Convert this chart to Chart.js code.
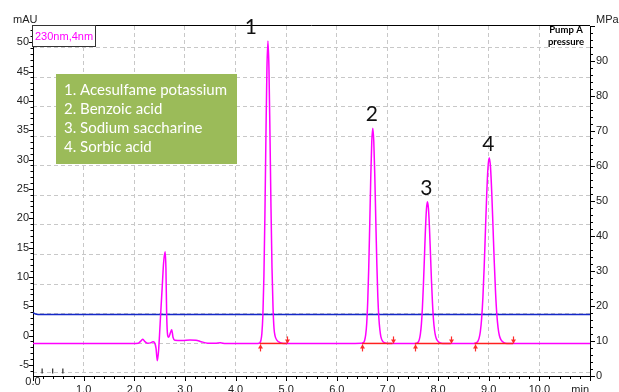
<!DOCTYPE html>
<html>
<head>
<meta charset="utf-8">
<script src="https://cdn.jsdelivr.net/npm/chart.js@4.4.0/dist/chart.umd.min.js"></script>
<style>
  html, body { margin: 0; padding: 0; background: #fff; }
  canvas { display: block; }
</style>
</head>
<body>
<canvas id="chartCanvas" width="619" height="392"></canvas>
<script>
// detector trace (230nm)
const traceTimes = [
  0.00, 0.50, 1.00, 1.50, 1.95, 2.08, 2.13, 2.17, 2.21, 2.26, 2.32, 2.37,
  2.40, 2.43, 2.455, 2.48, 2.50, 2.52, 2.55, 2.58, 2.61, 2.625, 2.64, 2.66,
  2.68, 2.715, 2.74, 2.765, 2.80, 2.95, 3.10, 3.22, 3.32, 3.45, 3.60, 3.70,
  3.80, 4.20,
  4.44, 4.48, 4.50, 4.52, 4.54, 4.56, 4.58, 4.60, 4.62, 4.64, 4.66, 4.68,
  4.70, 4.72, 4.74, 4.76, 4.78, 4.82, 4.88, 4.95,
  5.20, 5.80, 6.20,
  6.49, 6.53, 6.55, 6.57, 6.59, 6.61, 6.63, 6.65, 6.67, 6.69, 6.71, 6.73,
  6.75, 6.77, 6.79, 6.81, 6.83, 6.85, 6.87, 6.90, 6.95, 7.01,
  7.30,
  7.56, 7.59, 7.61, 7.63, 7.65, 7.67, 7.69, 7.71, 7.73, 7.75, 7.77, 7.79,
  7.81, 7.83, 7.85, 7.87, 7.89, 7.91, 7.93, 7.95, 7.98, 8.03, 8.09,
  8.40,
  8.70, 8.73, 8.76, 8.785, 8.81, 8.835, 8.86, 8.885, 8.91, 8.935, 8.96, 8.985,
  9.01, 9.035, 9.06, 9.085, 9.11, 9.135, 9.16, 9.185, 9.21, 9.24, 9.29, 9.36,
  9.80, 10.40, 11.00
];
const traceSignal = [
  -1.35, -1.36, -1.37, -1.36, -1.35, -1.30, -0.95, -0.65, -1.05, -1.30, -1.25, -1.05,
  -1.20, -2.20, -4.30, -2.60, 0.30, 3.50, 8.00, 12.50, 14.30, 11.50, 3.50, 0.00,
  -0.30, 0.50, 1.00, -0.30, -0.80, -0.85, -0.75, -0.80, -1.05, -1.30, -1.32, -1.25,
  -1.35, -1.36,
  -1.35, -1.23, -0.85, 0.35, 3.50, 10.00, 20.60, 33.90, 45.50, 50.20, 45.50, 34.20,
  21.80, 11.50, 4.80, 1.20, -0.06, -0.83, -1.20, -1.35,
  -1.36, -1.35, -1.36,
  -1.33, -1.20, -0.80, 0.10, 2.00, 5.70, 11.40, 18.90, 26.80, 33.00, 35.35, 33.10,
  27.20, 19.60, 12.30, 6.60, 3.00, 1.00, -0.20, -0.90, -1.25, -1.35,
  -1.36,
  -1.35, -1.25, -1.08, -0.66, 0.24, 1.90, 4.70, 8.60, 13.30, 18.00, 21.50, 22.80,
  21.60, 18.30, 13.80, 9.20, 5.40, 2.60, 0.90, -0.10, -0.80, -1.20, -1.35,
  -1.35,
  -1.35, -1.32, -1.23, -1.00, -0.45, 0.70, 2.90, 6.50, 11.65, 17.85, 24.00, 28.60,
  30.30, 28.70, 24.30, 18.40, 12.40, 7.30, 3.60, 1.30, 0.00, -0.70, -1.15, -1.35,
  -1.36, -1.35, -1.37
];

// pump A pressure (MPa)
const pressureTimes = [0.00, 0.05, 0.10, 11.00];
const pressureValues = [18.1, 17.7, 17.55, 17.6];

// peaks
const peakNames = ['1', '2', '3', '4'];
const peakTimes = [4.64, 6.71, 7.79, 9.01];
const peakHeights = [50.2, 35.35, 22.8, 30.3];
const peakStarts = [4.48, 6.50, 7.54, 8.72];
const peakEnds = [5.01, 7.10, 8.25, 9.48];
const baselineLevel = -1.35;

const eventTimes = [0.18, 0.39, 0.59];
const eventLevel = -6.05;

const compoundNames = [
  '1. Acesulfame potassium',
  '2. Benzoic acid',
  '3. Sodium saccharine',
  '4. Sorbic acid'
];

const xTickValues = [1, 2, 3, 4, 5, 6, 7, 8, 9, 10];
const leftTickValues = [-5, 0, 5, 10, 15, 20, 25, 30, 35, 40, 45, 50];
const rightTickValues = [0, 10, 20, 30, 40, 50, 60, 70, 80, 90, 100];
const gridSteps = [0, 1, 2, 3, 4, 5, 6, 7, 8, 9, 10, 11];

const sansFont = "'Liberation Sans', Arial, sans-serif";
const labelFont = "Lato, 'Open Sans', sans-serif";

const overlayPlugin = {
  id: 'overlay',
  afterDraw(chart) {
    const { ctx, chartArea: a, scales } = chart;
    const sx = scales.x, sy = scales.y, sr = scales.y1;
    ctx.save();

    // frame top
    ctx.strokeStyle = '#000';
    ctx.lineWidth = 1;
    ctx.beginPath();
    ctx.moveTo(a.left, Math.round(a.top) - 0.5);
    ctx.lineTo(a.right, Math.round(a.top) - 0.5);
    ctx.stroke();

    // tick marks
    ctx.beginPath();
    for (let i = 0; i <= 55; i++) {
      const px = Math.round(sx.getPixelForValue(i / 5)) + 0.5;
      const len = i % 5 === 0 ? 5 : 3;
      ctx.moveTo(px, a.bottom);
      ctx.lineTo(px, a.bottom + len);
    }
    for (let v = -6; v <= 52; v++) {
      const py = Math.round(sy.getPixelForValue(v)) + 0.5;
      const len = v % 5 === 0 ? 4 : 2.5;
      ctx.moveTo(a.left - len, py);
      ctx.lineTo(a.left, py);
    }
    for (let v = 0; v <= 100; v += 2) {
      const py = Math.round(sr.getPixelForValue(v)) + 0.5;
      const len = v % 10 === 0 ? 5 : 3;
      ctx.moveTo(a.right, py);
      ctx.lineTo(a.right + len, py);
    }
    ctx.stroke();

    // axis texts
    ctx.fillStyle = '#222';
    ctx.font = '11px ' + sansFont;
    ctx.textBaseline = 'alphabetic';
    ctx.textAlign = 'left';
    ctx.fillText('mAU', 13, 23);
    ctx.fillText('MPa', 596, 23);
    ctx.textBaseline = 'middle';
    ctx.textAlign = 'center';
    ctx.fillText('0.0', sx.getPixelForValue(0), 382);
    ctx.textAlign = 'right';
    ctx.fillText('min', sx.getPixelForValue(11) - 1, a.bottom + 13.5);

    // detector legend box
    ctx.fillStyle = '#fff';
    ctx.fillRect(a.left, 25.5, 63, 21);
    ctx.strokeStyle = '#333';
    ctx.strokeRect(a.left - 0.5, 25.5, 63, 21);
    ctx.fillStyle = '#ff00ff';
    ctx.textAlign = 'left';
    ctx.textBaseline = 'alphabetic';
    ctx.fillText('230nm,4nm', a.left + 2, 39.5);

    // pump legend
    ctx.fillStyle = '#000';
    ctx.font = 'bold 9.5px ' + labelFont;
    ctx.textAlign = 'center';
    ctx.fillText('Pump A', 566, 33);
    ctx.fillText('pressure', 566, 44.5);

    // compound box
    ctx.fillStyle = '#9bbb59';
    ctx.fillRect(56, 74, 181, 90);
    ctx.fillStyle = '#fff';
    ctx.font = '15px ' + labelFont;
    ctx.textAlign = 'left';
    compoundNames.forEach((name, i) => {
      ctx.fillText(name, 64, 95 + i * 19);
    });

    // peak numbers
    ctx.fillStyle = '#111';
    ctx.font = '21px ' + labelFont;
    ctx.textAlign = 'center';
    peakNames.forEach((name, i) => {
      const px = sx.getPixelForValue(peakTimes[i]) + (i === 0 ? -17 : -1);
      const py = sy.getPixelForValue(peakHeights[i]) - 7;
      ctx.fillText(name, px, py);
    });

    // integration markers
    ctx.strokeStyle = '#ff2a2a';
    ctx.fillStyle = '#ff2a2a';
    ctx.lineWidth = 1.2;
    const yb = sy.getPixelForValue(baselineLevel);
    const arrow = (x, tip, dir) => {
      ctx.beginPath();
      ctx.moveTo(x, tip + dir * 7);
      ctx.lineTo(x, tip);
      ctx.stroke();
      ctx.beginPath();
      ctx.moveTo(x, tip);
      ctx.lineTo(x - 2.5, tip + dir * 4);
      ctx.lineTo(x + 2.5, tip + dir * 4);
      ctx.closePath();
      ctx.fill();
    };
    peakStarts.forEach(t => arrow(Math.round(sx.getPixelForValue(t)) + 0.5, yb + 1, 1));
    peakEnds.forEach(t => arrow(Math.round(sx.getPixelForValue(t)) + 0.5, yb, -1));

    ctx.restore();
  }
};

const segmentSets = peakStarts.map((s, i) => ({
  data: [{ x: s, y: baselineLevel }, { x: peakEnds[i], y: baselineLevel }],
  borderColor: '#ff2020',
  borderWidth: 1.5,
  pointRadius: 0,
  yAxisID: 'y',
  order: 0
}));

const ctx = document.getElementById('chartCanvas').getContext('2d');

new Chart(ctx, {
  type: 'line',
  data: {
    datasets: [
      ...segmentSets,
      {
        label: '230nm,4nm',
        data: traceTimes.map((t, i) => ({ x: t, y: traceSignal[i] })),
        borderColor: '#ff00ff',
        borderWidth: 1.5,
        pointRadius: 0,
        cubicInterpolationMode: 'monotone',
        yAxisID: 'y',
        order: 1
      },
      {
        label: 'Pump A pressure',
        data: pressureTimes.map((t, i) => ({ x: t, y: pressureValues[i] })),
        borderColor: '#1428c8',
        borderWidth: 1.5,
        pointRadius: 0,
        yAxisID: 'y1',
        order: 2
      },
      {
        label: 'events',
        data: eventTimes.map(t => ({ x: t, y: eventLevel })),
        showLine: false,
        pointStyle: 'line',
        rotation: 90,
        pointRadius: 2.5,
        borderWidth: 1,
        borderColor: '#000',
        yAxisID: 'y',
        order: 3
      }
    ]
  },
  options: {
    responsive: false,
    animation: false,
    devicePixelRatio: 1,
    layout: { padding: { top: 26, left: 0, right: 0, bottom: 0 } },
    plugins: {
      legend: { display: false },
      tooltip: { enabled: false }
    },
    scales: {
      x: {
        type: 'linear',
        min: 0,
        max: 11,
        afterBuildTicks: s => { s.ticks = xTickValues.map(v => ({ value: v })); },
        afterFit: s => { s.height = 16; },
        ticks: {
          callback: v => v.toFixed(1),
          font: { family: sansFont, size: 11 },
          color: '#222',
          padding: 7,
          maxRotation: 0,
          autoSkip: false
        },
        grid: { color: '#c8c8c8', lineWidth: 1, drawTicks: false },
        border: { display: true, color: '#000', width: 1, dash: [4, 3] }
      },
      y: {
        type: 'linear',
        position: 'left',
        min: -6.9,
        max: 52.76,
        afterBuildTicks: s => { s.ticks = leftTickValues.map(v => ({ value: v })); },
        afterFit: s => { s.width = 33; },
        ticks: {
          font: { family: sansFont, size: 11 },
          color: '#222',
          padding: 4
        },
        grid: { display: false, drawTicks: false },
        border: { display: true, color: '#000', width: 1 }
      },
      g: {
        type: 'linear',
        position: 'left',
        min: -0.112,
        max: 11.733,
        afterBuildTicks: s => { s.ticks = gridSteps.map(v => ({ value: v })); },
        afterFit: s => { s.width = 0; },
        ticks: { display: false },
        grid: { color: '#c8c8c8', lineWidth: 1, drawTicks: false },
        border: { display: false, dash: [4, 3] }
      },
      y1: {
        type: 'linear',
        position: 'right',
        min: 0,
        max: 100,
        afterBuildTicks: s => { s.ticks = rightTickValues.map(v => ({ value: v })); },
        afterFit: s => { s.width = 29; },
        ticks: {
          callback: v => (v === 100 ? '' : v),
          font: { family: sansFont, size: 11 },
          color: '#222',
          padding: 6
        },
        grid: { display: false, drawTicks: false },
        border: { display: true, color: '#000', width: 1 }
      }
    }
  },
  plugins: [overlayPlugin]
});
</script>
</body>
</html>
